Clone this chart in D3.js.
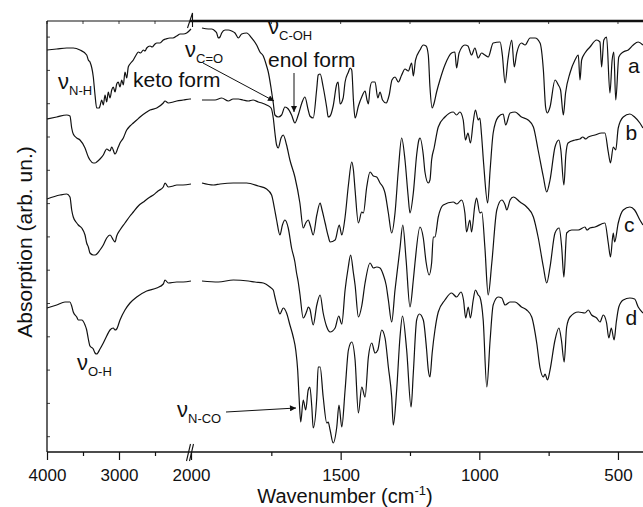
<!DOCTYPE html>
<html>
<head>
<meta charset="utf-8">
<script src="https://cdn.jsdelivr.net/npm/d3@7/dist/d3.min.js"></script>
<style>
  html, body { margin: 0; padding: 0; background: #fff; }
  svg text { font-family: "Liberation Sans", Arial, Helvetica, sans-serif; fill: #111; }
</style>
</head>
<body>
<svg id="chart" width="643" height="507"></svg>
<script>
// ---------- DATA (wavenumber cm-1, absorption arb. units incl. vertical offset) ----------
const aLeft = [[4000,402],[3865,403],[3726,404],[3635,404],[3542,402],[3449,397],[3426,392],[3403,390],[3357,375],[3333,357],[3310,344],[3274,344],[3264,346],[3240,352],[3218,347],[3194,357],[3171,350],[3149,360],[3125,354],[3101,362],[3079,365],[3055,360],[3032,368],[3010,370],[2986,365],[2962,372],[2940,367],[2917,380],[2893,374],[2871,385],[2847,388],[2801,392],[2754,398],[2732,400],[2700,399],[2662,402],[2640,401],[2615,404],[2569,406],[2540,405],[2500,408],[2476,409],[2430,409],[2385,412],[2350,413],[2292,414],[2250,414],[2199,416],[2150,418],[2107,418],[2060,419],[2000,423]];
const aRight = [[2000,424],[1977,423],[1965,423],[1953,421],[1947,419],[1941,414],[1935,415],[1929,419],[1917,422],[1905,422],[1893,421],[1881,419],[1869,414],[1857,418],[1839,419],[1821,414],[1803,407],[1791,400],[1779,396],[1767,386],[1761,380],[1751,364],[1743,349],[1737,337],[1725,335],[1713,337],[1701,345],[1689,343],[1677,337],[1665,329],[1653,337],[1640,349],[1629,355],[1617,342],[1611,336],[1599,334],[1586,364],[1581,377],[1574,378],[1563,365],[1550,344],[1545,335],[1538,336],[1527,346],[1514,368],[1509,370],[1502,348],[1491,354],[1484,370],[1472,380],[1466,384],[1460,382],[1454,352],[1448,334],[1436,346],[1424,355],[1412,361],[1405,352],[1400,348],[1394,364],[1387,370],[1376,370],[1366,354],[1358,360],[1349,352],[1336,349],[1325,357],[1315,372],[1304,375],[1292,370],[1280,377],[1268,383],[1256,381],[1244,389],[1238,376],[1230,392],[1214,402],[1202,407],[1192,406],[1184,397],[1178,365],[1170,344],[1164,348],[1154,360],[1142,372],[1124,387],[1100,399],[1088,400],[1082,384],[1073,399],[1052,407],[1041,406],[1028,397],[1016,404],[1004,394],[992,399],[980,397],[968,395],[950,409],[925,410],[917,397],[907,369],[897,392],[883,412],[874,385],[865,399],[848,409],[835,407],[817,414],[799,414],[781,409],[769,382],[761,345],[755,339],[745,345],[727,372],[715,367],[707,362],[697,337],[689,359],[673,379],[655,392],[643,397],[637,372],[631,392],[619,399],[601,405],[577,412],[565,410],[559,385],[551,412],[541,415],[529,359],[521,392],[515,400],[508,352],[497,395],[481,400],[463,402],[445,407],[427,410],[410,407]];

const bLeft = [[4000,333],[3865,335],[3726,337],[3681,336],[3657,324],[3635,318],[3587,314],[3542,312],[3472,304],[3426,295],[3403,292],[3357,289],[3333,289],[3310,290],[3264,293],[3218,297],[3171,303],[3125,301],[3101,305],[3055,298],[3010,305],[2986,309],[2940,314],[2893,322],[2847,326],[2801,329],[2754,332],[2708,335],[2615,340],[2569,342],[2476,344],[2385,349],[2361,351],[2315,349],[2246,350],[2199,351],[2107,352],[2014,353],[2000,353]];
const bRight = [[2000,352],[1978,352],[1953,352],[1929,354],[1905,351],[1888,353],[1869,353],[1852,352],[1833,351],[1816,352],[1797,350],[1784,349],[1767,347],[1751,344],[1743,334],[1737,319],[1731,307],[1725,304],[1715,314],[1707,317],[1695,307],[1683,292],[1665,275],[1647,249],[1635,224],[1626,229],[1617,232],[1609,226],[1599,217],[1586,237],[1574,249],[1567,242],[1556,229],[1545,216],[1538,210],[1520,212],[1505,227],[1496,217],[1484,235],[1472,267],[1460,290],[1454,282],[1448,262],[1436,229],[1424,240],[1418,239],[1406,265],[1394,280],[1382,276],[1370,275],[1358,269],[1346,264],[1340,259],[1328,239],[1316,219],[1304,239],[1292,282],[1280,314],[1268,292],[1257,257],[1250,239],[1238,259],[1226,297],[1218,312],[1214,314],[1202,297],[1196,280],[1184,269],[1178,272],[1172,292],[1163,304],[1148,325],[1124,335],[1094,340],[1082,337],[1070,340],[1058,332],[1050,312],[1041,319],[1032,309],[1022,330],[1014,342],[1004,332],[998,334],[992,317],[984,287],[970,249],[961,282],[950,319],[932,335],[914,338],[905,327],[889,339],[871,340],[848,335],[824,332],[805,325],[788,302],[769,275],[757,260],[745,272],[727,305],[713,312],[706,302],[695,267],[688,297],[680,309],[655,312],[637,313],[627,315],[616,313],[607,315],[583,317],[559,319],[547,319],[535,300],[527,289],[517,305],[508,302],[499,324],[481,335],[457,338],[440,335],[421,329],[410,324]];

const cLeft = [[4000,253],[3819,257],[3726,258],[3681,255],[3657,242],[3635,235],[3587,229],[3565,227],[3518,224],[3472,217],[3449,209],[3426,205],[3403,199],[3357,197],[3333,197],[3264,202],[3218,207],[3171,214],[3125,217],[3079,212],[3055,210],[3032,216],[2986,222],[2917,229],[2847,236],[2801,240],[2732,246],[2662,250],[2569,255],[2523,257],[2458,261],[2385,265],[2361,269],[2315,265],[2246,266],[2199,267],[2111,267],[2000,268]];
const cRight = [[2000,269],[1959,267],[1935,268],[1887,269],[1839,269],[1797,266],[1767,263],[1749,257],[1739,244],[1731,232],[1719,217],[1710,227],[1701,232],[1689,224],[1677,204],[1665,190],[1659,179],[1653,170],[1647,158],[1635,134],[1622,141],[1617,145],[1611,143],[1599,127],[1586,147],[1574,157],[1563,139],[1550,125],[1538,120],[1520,124],[1507,136],[1496,128],[1484,162],[1473,184],[1464,197],[1454,179],[1448,167],[1436,135],[1424,146],[1412,169],[1394,189],[1382,184],[1370,185],[1358,184],[1346,177],[1336,167],[1328,152],[1316,130],[1304,162],[1292,190],[1286,204],[1276,227],[1264,192],[1250,145],[1238,172],[1232,189],[1214,225],[1202,214],[1192,190],[1181,177],[1172,189],[1166,215],[1160,215],[1148,235],[1130,247],[1094,250],[1081,248],[1064,252],[1052,239],[1046,220],[1034,232],[1028,220],[1016,247],[1010,254],[998,239],[991,240],[980,205],[968,157],[955,189],[937,242],[919,252],[907,247],[901,242],[889,252],[877,255],[853,250],[829,245],[805,235],[788,215],[769,185],[757,169],[745,185],[727,219],[712,224],[703,205],[695,175],[685,219],[667,222],[643,222],[619,225],[612,222],[601,224],[583,225],[547,229],[535,209],[527,195],[517,219],[512,210],[499,229],[481,242],[457,245],[440,242],[421,232],[410,227]];

const dLeft = [[4000,144],[3865,147],[3750,150],[3681,150],[3657,146],[3635,140],[3587,135],[3565,132],[3518,132],[3472,127],[3449,122],[3426,113],[3403,106],[3357,103],[3333,99],[3310,98],[3264,103],[3218,109],[3171,116],[3125,122],[3079,124],[3055,122],[3032,123],[2986,132],[2917,142],[2847,149],[2754,155],[2615,161],[2476,164],[2385,168],[2361,172],[2315,169],[2199,170],[2107,170],[2000,171]];
const dRight = [[2000,171],[1941,170],[1887,172],[1833,171],[1809,170],[1779,169],[1755,165],[1743,162],[1737,155],[1727,144],[1719,138],[1707,144],[1695,139],[1683,127],[1671,115],[1662,102],[1655,82],[1650,55],[1644,30],[1635,52],[1626,42],[1617,62],[1611,65],[1604,45],[1599,24],[1586,55],[1581,85],[1574,85],[1563,55],[1550,29],[1545,30],[1538,22],[1527,9],[1514,25],[1506,47],[1496,25],[1484,62],[1472,102],[1460,110],[1448,92],[1436,39],[1424,65],[1412,55],[1400,95],[1388,109],[1376,99],[1366,102],[1352,122],[1340,114],[1328,85],[1316,55],[1310,27],[1298,62],[1286,115],[1277,136],[1262,102],[1246,45],[1238,79],[1226,132],[1216,138],[1202,132],[1190,102],[1184,82],[1178,75],[1170,99],[1160,122],[1148,140],[1124,152],[1100,159],[1082,155],[1066,160],[1057,152],[1049,134],[1040,145],[1032,134],[1022,152],[1014,162],[1004,157],[998,155],[986,132],[973,65],[961,112],[950,147],[932,155],[919,154],[907,147],[889,150],[871,150],[848,145],[829,142],[811,135],[793,109],[781,84],[769,75],[763,78],[754,72],[745,82],[727,112],[713,124],[704,112],[694,90],[685,125],[673,135],[643,140],[619,139],[607,142],[595,137],[577,134],[565,130],[553,137],[541,129],[533,114],[524,124],[514,112],[506,130],[497,145],[481,152],[457,154],[440,153],[427,145],[410,139]];

const seriesNames = ["a", "b", "c", "d"];
const labelValues = [[464, 379], [473, 312], [478, 220], [473, 127]]; // [wavenumber, value] anchor for series letters
const leftMajorTicks = [4000, 3000, 2000];
const leftMinorTicks = [3500, 2500];
const rightMajorTicks = [1500, 1000, 500];
const rightMinorTicks = [1750, 1250, 750];

// ---------- LAYOUT ----------
const svg = d3.select("#chart");
const pTop = 21, pBottom = 452, pLeft = 47, breakX = 191, rightStart = 202;
const xLeft = d3.scaleLinear().domain([4000, 2000]).range([pLeft, breakX]);
const xRight = d3.scaleLinear().domain([2000, 400]).range([rightStart, 645.7]);
const y = d3.scaleLinear().domain([0, 431]).range([pBottom, pTop]);

const ink = "#111";

// curves
const lineL = d3.line().x(d => xLeft(d[0])).y(d => y(d[1])).curve(d3.curveMonotoneX);
const lineR = d3.line().x(d => xRight(d[0])).y(d => y(d[1])).curve(d3.curveMonotoneX);
const lefts = [aLeft, bLeft, cLeft, dLeft];
const rights = [aRight, bRight, cRight, dRight];
const g = svg.append("g");
lefts.forEach(s => g.append("path").attr("d", lineL(s)).attr("fill", "none").attr("stroke", ink).attr("stroke-width", 1.2));
rights.forEach(s => g.append("path").attr("d", lineR(s)).attr("fill", "none").attr("stroke", ink).attr("stroke-width", 1.2));

// axes frame
svg.append("line").attr("x1", pLeft).attr("x2", pLeft).attr("y1", pTop).attr("y2", pBottom).attr("stroke", ink).attr("stroke-width", 1.3);
svg.append("line").attr("x1", pLeft).attr("x2", 643).attr("y1", pBottom).attr("y2", pBottom).attr("stroke", ink).attr("stroke-width", 1.3);
svg.append("line").attr("x1", pLeft).attr("x2", 190).attr("y1", pTop).attr("y2", pTop).attr("stroke", ink).attr("stroke-width", 1.2);
svg.append("line").attr("x1", 190).attr("x2", 643).attr("y1", pTop).attr("y2", pTop).attr("stroke", ink).attr("stroke-width", 2.6);

// bottom axis ticks
function bottomAxis(scale, vals, size, labels) {
  const ax = d3.axisBottom(scale).tickValues(vals).tickSize(size).tickPadding(9)
    .tickFormat(labels ? d3.format("d") : () => "");
  const ga = svg.append("g").attr("transform", `translate(0,${pBottom})`).call(ax);
  ga.select(".domain").remove();
  ga.selectAll(".tick line").attr("stroke", ink).attr("stroke-width", 1.2);
  ga.selectAll(".tick text").attr("font-size", 17).attr("fill", ink)
    .style("font-family", '"Liberation Sans", Arial, sans-serif');
}
bottomAxis(xLeft, leftMajorTicks, 8, true);
bottomAxis(xLeft, leftMinorTicks, 4, false);
bottomAxis(xRight, rightMajorTicks, 8, true);
bottomAxis(xRight, rightMinorTicks, 4, false);

// top axis small inner ticks
const topTicks = svg.append("g");
[...rightMajorTicks, ...rightMinorTicks].forEach(v => {
  topTicks.append("line").attr("x1", xRight(v)).attr("x2", xRight(v)).attr("y1", pTop).attr("y2", pTop + 3)
    .attr("stroke", ink).attr("stroke-width", 0.8);
});
[...leftMajorTicks.slice(0, 2), ...leftMinorTicks].forEach(v => {
  topTicks.append("line").attr("x1", xLeft(v)).attr("x2", xLeft(v)).attr("y1", pTop).attr("y2", pTop + 3)
    .attr("stroke", ink).attr("stroke-width", 0.8);
});

// left axis small inner ticks
d3.range(15.3, 431, 33.3).forEach(v => {
  svg.append("line").attr("x1", pLeft).attr("x2", pLeft + 3).attr("y1", y(v)).attr("y2", y(v))
    .attr("stroke", ink).attr("stroke-width", 0.8);
});

// break marks
svg.append("path").attr("d", `M186.5,461 L190.5,444 M189.5,461 L193.5,444`).attr("stroke", ink).attr("stroke-width", 1.1).attr("fill", "none");
svg.append("path").attr("d", `M187.5,28 L192.5,13 L192.5,27`).attr("stroke", ink).attr("stroke-width", 1.1).attr("fill", "none");

// axis titles
const xt = svg.append("text").attr("x", 345).attr("y", 503).attr("text-anchor", "middle").attr("font-size", 20);
xt.append("tspan").text("Wavenumber (cm");
xt.append("tspan").attr("font-size", 13).attr("dy", -8).text("-1");
xt.append("tspan").attr("dy", 8).text(")");

svg.append("text").attr("transform", "translate(32,242) rotate(-90)").attr("text-anchor", "middle")
  .attr("font-size", 21).text("Absorption (arb. un.)");

// series letters
seriesNames.forEach((n, i) => {
  svg.append("text").attr("x", xRight(labelValues[i][0])).attr("y", y(labelValues[i][1]))
    .attr("font-size", 21).attr("text-anchor", "start").text(n);
});

// annotations
function nu(x, yb, sub) {
  const t = svg.append("text").attr("x", x).attr("y", yb).attr("font-size", 22);
  t.append("tspan").text("ν");
  t.append("tspan").attr("font-size", 13).attr("dy", 6).text(sub);
}
nu(58, 89, "N-H");
nu(185, 57, "C=O");
nu(268, 34, "C-OH");
nu(77, 370, "O-H");
nu(177, 417, "N-CO");

svg.append("text").attr("x", 133).attr("y", 87).attr("font-size", 21).text("keto form");
svg.append("text").attr("x", 268).attr("y", 67).attr("font-size", 21).text("enol form");

const defs = svg.append("defs");
defs.append("marker").attr("id", "arr").attr("viewBox", "0 0 10 10").attr("refX", 10).attr("refY", 5)
  .attr("markerWidth", 9).attr("markerHeight", 6).attr("orient", "auto").attr("markerUnits", "userSpaceOnUse")
  .append("path").attr("d", "M0,0 L10,5 L0,10 z").attr("fill", ink);

function arrow(x1, y1, x2, y2) {
  svg.append("line").attr("x1", x1).attr("y1", y1).attr("x2", x2).attr("y2", y2)
    .attr("stroke", ink).attr("stroke-width", 1).attr("marker-end", "url(#arr)");
}
arrow(203, 63, 274, 101);
arrow(294, 73, 294, 112);
arrow(226, 412, 296, 408);
</script>
</body>
</html>
